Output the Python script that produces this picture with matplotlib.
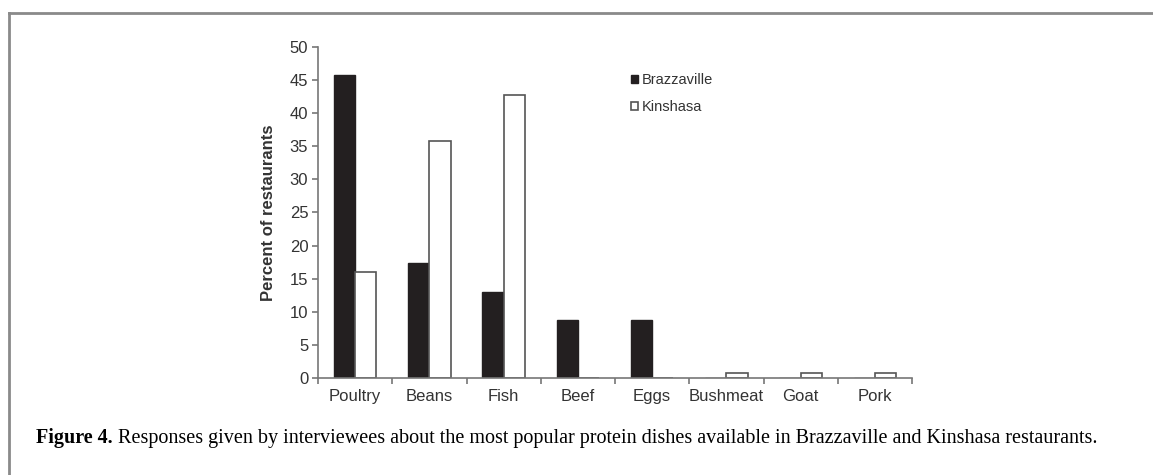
import numpy as np
import matplotlib.pyplot as plt

categories = ['Poultry', 'Beans', 'Fish', 'Beef', 'Eggs', 'Bushmeat', 'Goat', 'Pork']
brazzaville = [45.7, 17.4, 13.0, 8.7, 8.7, 0, 0, 0]
kinshasa = [16.0, 35.8, 42.8, 0, 0, 0.8, 0.8, 0.8]
y_ticks = list(range(0, 51, 5))

caption_bold = 'Figure 4.'
caption_text = ' Responses given by interviewees about the most popular protein dishes available in Brazzaville and Kinshasa restaurants.'

plt.rcParams['font.family'] = ['Liberation Sans', 'DejaVu Sans']

fig = plt.figure(figsize=(11.53, 4.75), dpi=100)

# frame around the figure (only top and left visible)
fig.add_artist(plt.Line2D([8.5 / 1153, 1.0], [1 - 12.5 / 475, 1 - 12.5 / 475],
                          color='#8a8a8a', lw=2, transform=fig.transFigure))
fig.add_artist(plt.Line2D([8.5 / 1153, 8.5 / 1153], [0.0, 1 - 12.5 / 475],
                          color='#8a8a8a', lw=2, transform=fig.transFigure))

ax = fig.add_axes([318 / 1153, 1 - 378 / 475, 594 / 1153, 331 / 475])

x = np.arange(len(categories))
w = 0.285
ax.bar(x - w / 2, brazzaville, w, color='#231f20', edgecolor='#231f20', lw=1, label='Brazzaville')
ax.bar(x + w / 2, kinshasa, w, color='white', edgecolor='#555555', lw=1.2, label='Kinshasa')

ax.set_xlim(-0.5, len(categories) - 0.5)
ax.set_ylim(0, 50)
ax.set_yticks(y_ticks)
ax.set_xticks(np.arange(len(categories) + 1) - 0.5)
ax.set_xticklabels([])
ax.set_xticks(x, minor=True)
ax.set_xticklabels(categories, minor=True)
ax.tick_params(axis='x', which='minor', length=0, pad=8, labelsize=12, colors='#333333')
ax.tick_params(axis='x', which='major', length=4, width=1.2, color='#777777')
ax.tick_params(axis='y', length=4, width=1.2, color='#777777', labelsize=12, labelcolor='#333333', pad=3)

for s in ['top', 'right']:
    ax.spines[s].set_visible(False)
for s in ['left', 'bottom']:
    ax.spines[s].set_color('#777777')
    ax.spines[s].set_linewidth(1.2)

ax.set_ylabel('Percent of restaurants', fontsize=12, fontweight='bold', color='#333333', labelpad=10)

ax.legend(loc='upper left', bbox_to_anchor=(0.505, 0.96), frameon=False, fontsize=10.5,
          handlelength=0.5, handleheight=0.5, handletextpad=0.2, labelspacing=0.9,
          labelcolor='#333333')

# caption
t = fig.text(36 / 1153, 1 - 438 / 475, caption_bold, fontsize=14.5, fontweight='bold',
             family=['Liberation Serif'], va='center', ha='left')
fig.canvas.draw()
bb = t.get_window_extent()
fig.text(bb.x1 / 1153, 1 - 438 / 475, caption_text, fontsize=14.5,
         family=['Liberation Serif'], va='center', ha='left')

fig.savefig('out.png', dpi=100)
